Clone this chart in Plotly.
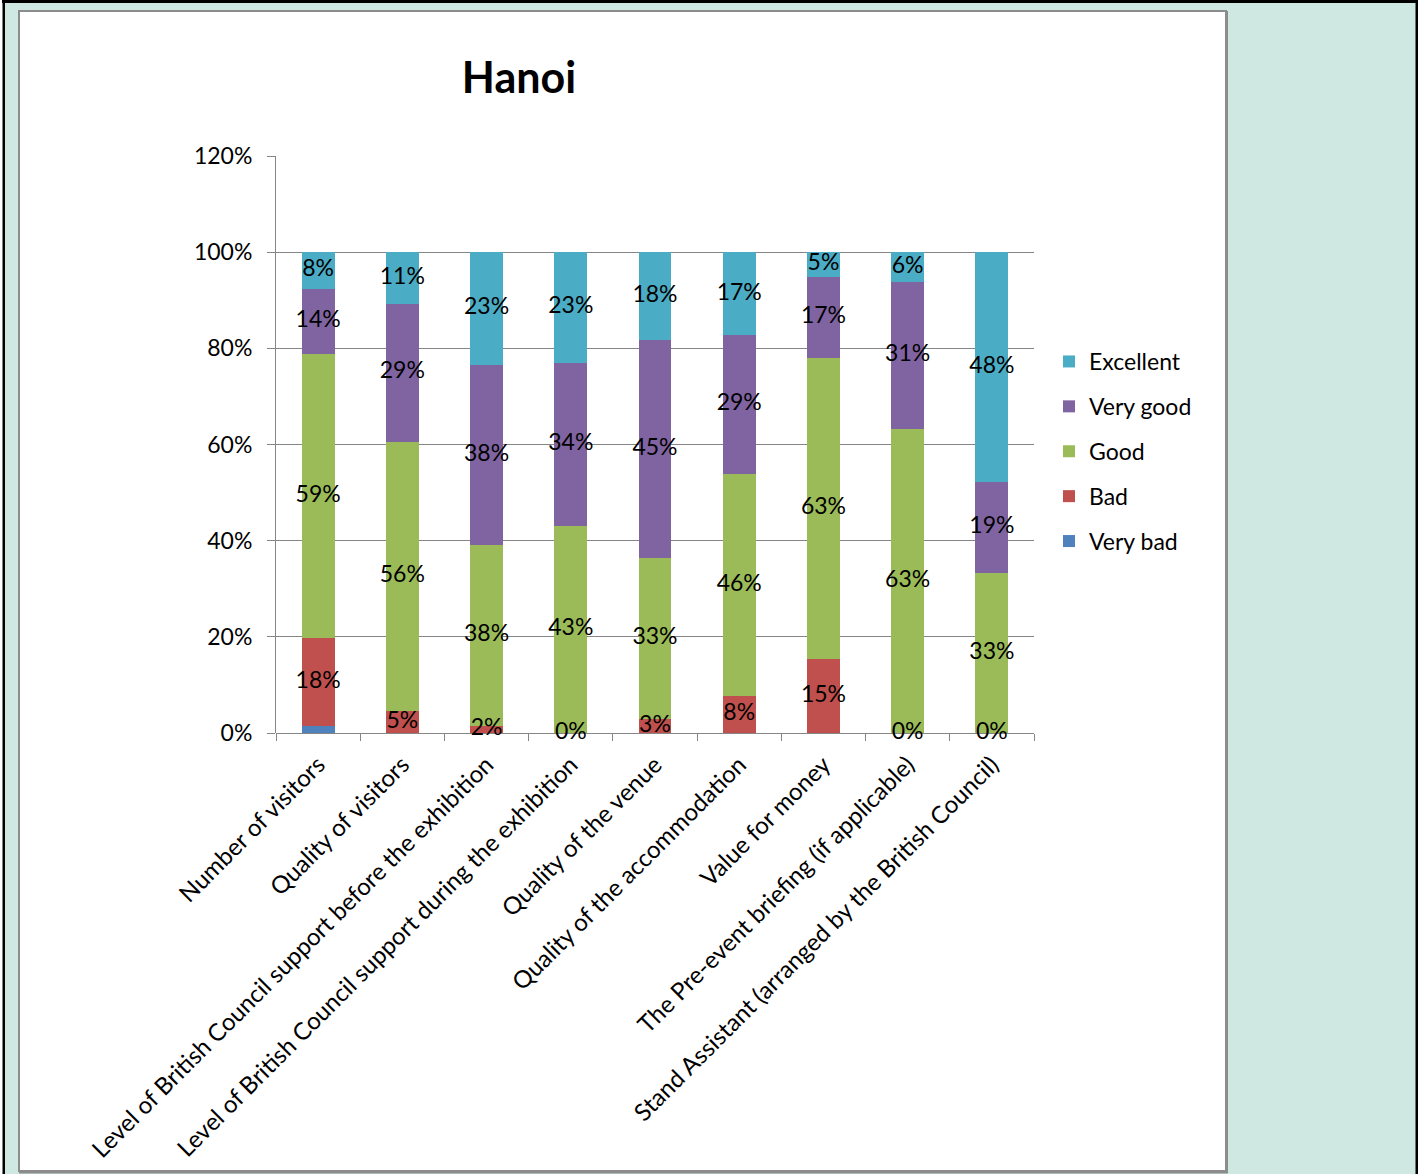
import plotly.graph_objects as go

# Survey results for the Hanoi exhibition (share of respondents, %)
categories = [
    "Number of visitors",
    "Quality of visitors",
    "Level of British Council support before the exhibition",
    "Level of British Council support during the exhibition",
    "Quality of the venue",
    "Quality of the accommodation",
    "Value for money",
    "The Pre-event briefing (if applicable)",
    "Stand Assistant (arranged by the British Council)",
]
very_bad = [1.5, 0, 0, 0, 0, 0, 0, 0, 0]
bad = [18.2, 4.6, 1.5, 0, 3.0, 7.7, 15.3, 0, 0]
good = [59.1, 56.0, 37.5, 43.1, 33.3, 46.2, 62.7, 63.3, 33.3]
very_good = [13.6, 28.7, 37.6, 33.8, 45.4, 28.8, 16.9, 30.6, 19.0]
excellent = [7.6, 10.7, 23.4, 23.1, 18.3, 17.3, 5.1, 6.1, 47.7]

y_ticks = [0, 20, 40, 60, 80, 100, 120]

W, H = 1425, 1174
L, R, T, B = 276, W - 1034, 156, H - 733
PW, PH = W - L - R, H - T - B

FONT = "Lato"
TXT = "#000000"
GRID = "#868686"

# name, values, colour, has data labels, legend rank
series = [
    ("Very bad", very_bad, "#4F81BD", False, 5),
    ("Bad", bad, "#C0504D", True, 4),
    ("Good", good, "#9BBB59", True, 3),
    ("Very good", very_good, "#8064A2", True, 2),
    ("Excellent", excellent, "#4BACC6", True, 1),
]


def px_x(p):
    return (p - L) / PW


def px_y(p):
    return (H - B - p) / PH


fig = go.Figure()

base = [0.0] * len(categories)
label_traces = []
for name, vals, color, labelled, rank in series:
    fig.add_trace(go.Bar(
        x=categories, y=vals, name=name, legendgroup=name, legendrank=rank,
        marker=dict(color=color, line=dict(width=0)),
        width=0.39,
    ))
    if labelled:
        mids = [b + v / 2 for b, v in zip(base, vals)]
        label_traces.append(go.Scatter(
            x=categories, y=mids, mode="text",
            text=[f"{v:.0f}%" for v in vals],
            textposition="middle center",
            textfont=dict(family=FONT, size=23, color=TXT),
            showlegend=False, hoverinfo="skip", cliponaxis=False,
        ))
    base = [b + v for b, v in zip(base, vals)]

for tr in label_traces:
    fig.add_trace(tr)

shapes = [
    # teal page background and its dark frame
    dict(type="rect", xref="paper", yref="paper",
         x0=px_x(3), x1=px_x(1418), y0=px_y(H + 5), y1=px_y(0),
         fillcolor="#CFE8E1", line=dict(width=0), layer="below"),
    dict(type="rect", xref="paper", yref="paper",
         x0=px_x(2), x1=px_x(1418), y0=px_y(3), y1=px_y(0),
         fillcolor="#000000", line=dict(width=0), layer="below"),
    dict(type="rect", xref="paper", yref="paper",
         x0=px_x(2.5), x1=px_x(5), y0=px_y(H + 5), y1=px_y(0),
         fillcolor="#000000", line=dict(width=0), layer="below"),
    dict(type="rect", xref="paper", yref="paper",
         x0=px_x(1415.5), x1=px_x(1418), y0=px_y(H + 5), y1=px_y(0),
         fillcolor="#000000", line=dict(width=0), layer="below"),
    # white chart panel with a grey edge
    dict(type="rect", xref="paper", yref="paper",
         x0=px_x(19), x1=px_x(1226), y0=px_y(1171), y1=px_y(11),
         fillcolor="#FFFFFF", line=dict(color="#8C8C8C", width=2), layer="below"),
    dict(type="line", xref="paper", yref="paper",
         x0=px_x(1227), x1=px_x(1227), y0=px_y(1173), y1=px_y(11),
         line=dict(color="#8C8C8C", width=2), layer="below"),
    dict(type="line", xref="paper", yref="paper",
         x0=px_x(19), x1=px_x(1228), y0=px_y(1172.5), y1=px_y(1172.5),
         line=dict(color="#8C8C8C", width=2), layer="below"),
]

fig.update_layout(
    width=W, height=H,
    margin=dict(l=L, r=R, t=T, b=B, pad=0),
    paper_bgcolor="#FFFFFF",
    plot_bgcolor="rgba(0,0,0,0)",
    barmode="stack",
    bargap=0.61,
    font=dict(family=FONT, size=23, color=TXT),
    title=dict(text="<b>Hanoi</b>", x=519 / W, xref="container", xanchor="center",
               y=1 - 78 / H, yref="container", yanchor="middle",
               font=dict(family=FONT, size=43, color=TXT)),
    showlegend=True,
    legend=dict(
        x=1049 / W, xref="container", xanchor="left",
        y=1 - 340 / H, yref="container", yanchor="top",
        traceorder="grouped", tracegroupgap=12,
        font=dict(family=FONT, size=23, color=TXT),
        bgcolor="rgba(0,0,0,0)", itemwidth=30,
    ),
    shapes=shapes,
    xaxis=dict(
        type="category", categoryorder="array", categoryarray=categories,
        tickangle=-45, automargin=False,
        showline=False, showgrid=False, zeroline=False,
        ticks="outside", tickson="boundaries", ticklen=7, tickcolor=GRID, tickwidth=1,
        ticklabelstandoff=12,
        tickfont=dict(family=FONT, size=24, color=TXT),
    ),
    yaxis=dict(
        range=[0, 120], tickvals=y_ticks, ticktext=[f"{v}%" for v in y_ticks],
        automargin=False,
        showline=True, linecolor=GRID, linewidth=1,
        showgrid=True, gridcolor=GRID, gridwidth=1,
        zeroline=True, zerolinecolor=GRID, zerolinewidth=1,
        ticks="outside", ticklen=8, tickcolor=GRID, tickwidth=1,
        ticklabelstandoff=10,
        tickfont=dict(family=FONT, size=23, color=TXT),
    ),
)

fig.write_html("out.html")
